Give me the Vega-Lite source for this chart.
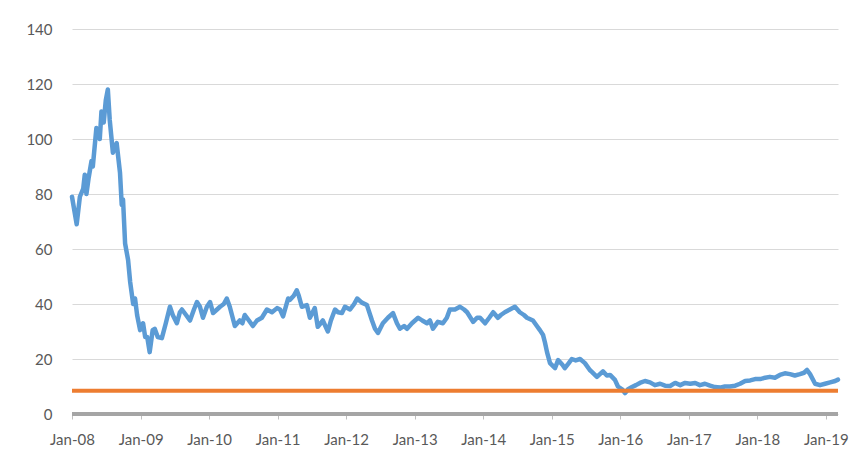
{
  "$schema": "https://vega.github.io/schema/vega-lite/v6.json",
  "width": 766,
  "height": 385,
  "autosize": {"type": "none"},
  "padding": {"left": 72, "top": 29, "right": 16, "bottom": 50},
  "background": "white",
  "config": {
    "view": {"stroke": null},
    "font": "Lato",
    "axis": {"labelFont": "Lato", "labelFontSize": 15, "labelColor": "#595959"}
  },
  "datasets": {
    "price": [
      {"date": "2008-01-01", "value": 79},
      {"date": "2008-01-26", "value": 69},
      {"date": "2008-02-12", "value": 79},
      {"date": "2008-03-01", "value": 82},
      {"date": "2008-03-09", "value": 87},
      {"date": "2008-03-18", "value": 80},
      {"date": "2008-03-30", "value": 86},
      {"date": "2008-04-14", "value": 92},
      {"date": "2008-04-21", "value": 90},
      {"date": "2008-05-10", "value": 104},
      {"date": "2008-05-17", "value": 102},
      {"date": "2008-05-28", "value": 100},
      {"date": "2008-06-06", "value": 110},
      {"date": "2008-06-18", "value": 106},
      {"date": "2008-06-29", "value": 114},
      {"date": "2008-07-10", "value": 118},
      {"date": "2008-07-20", "value": 107},
      {"date": "2008-08-06", "value": 95},
      {"date": "2008-08-26", "value": 98.5},
      {"date": "2008-09-13", "value": 87.6},
      {"date": "2008-09-22", "value": 76},
      {"date": "2008-09-29", "value": 78},
      {"date": "2008-10-10", "value": 62},
      {"date": "2008-10-26", "value": 56},
      {"date": "2008-11-06", "value": 48},
      {"date": "2008-11-22", "value": 40},
      {"date": "2008-12-02", "value": 42},
      {"date": "2008-12-13", "value": 36},
      {"date": "2008-12-29", "value": 30.5},
      {"date": "2009-01-14", "value": 33},
      {"date": "2009-01-25", "value": 28},
      {"date": "2009-02-05", "value": 28},
      {"date": "2009-02-18", "value": 22.5},
      {"date": "2009-03-06", "value": 30.5},
      {"date": "2009-03-17", "value": 31},
      {"date": "2009-04-02", "value": 28},
      {"date": "2009-04-24", "value": 27.6},
      {"date": "2009-05-15", "value": 33},
      {"date": "2009-06-06", "value": 39},
      {"date": "2009-06-21", "value": 36},
      {"date": "2009-07-13", "value": 33},
      {"date": "2009-07-29", "value": 37},
      {"date": "2009-08-09", "value": 38},
      {"date": "2009-08-31", "value": 36},
      {"date": "2009-09-21", "value": 34},
      {"date": "2009-10-12", "value": 38},
      {"date": "2009-10-28", "value": 40.7},
      {"date": "2009-11-13", "value": 39},
      {"date": "2009-11-29", "value": 35},
      {"date": "2009-12-20", "value": 39},
      {"date": "2010-01-06", "value": 40.7},
      {"date": "2010-01-22", "value": 36.7},
      {"date": "2010-02-12", "value": 38},
      {"date": "2010-02-28", "value": 39},
      {"date": "2010-03-20", "value": 40},
      {"date": "2010-04-05", "value": 42},
      {"date": "2010-04-21", "value": 39},
      {"date": "2010-05-18", "value": 32},
      {"date": "2010-06-13", "value": 34},
      {"date": "2010-06-27", "value": 33},
      {"date": "2010-07-10", "value": 36},
      {"date": "2010-08-01", "value": 34},
      {"date": "2010-08-22", "value": 32},
      {"date": "2010-09-13", "value": 34},
      {"date": "2010-10-09", "value": 35},
      {"date": "2010-11-05", "value": 38},
      {"date": "2010-12-02", "value": 37},
      {"date": "2010-12-29", "value": 38.5},
      {"date": "2011-01-14", "value": 38},
      {"date": "2011-01-30", "value": 35.5},
      {"date": "2011-02-26", "value": 42},
      {"date": "2011-03-07", "value": 41.5},
      {"date": "2011-03-28", "value": 43},
      {"date": "2011-04-13", "value": 45},
      {"date": "2011-04-24", "value": 43},
      {"date": "2011-05-10", "value": 39},
      {"date": "2011-06-06", "value": 39.6},
      {"date": "2011-06-22", "value": 35},
      {"date": "2011-07-18", "value": 38.5},
      {"date": "2011-08-03", "value": 31.7},
      {"date": "2011-08-30", "value": 34},
      {"date": "2011-09-26", "value": 30},
      {"date": "2011-10-12", "value": 34},
      {"date": "2011-11-03", "value": 38},
      {"date": "2011-11-19", "value": 37},
      {"date": "2011-12-10", "value": 36.7},
      {"date": "2011-12-26", "value": 39},
      {"date": "2012-01-22", "value": 38},
      {"date": "2012-02-13", "value": 40},
      {"date": "2012-02-29", "value": 42},
      {"date": "2012-03-25", "value": 40.5},
      {"date": "2012-04-21", "value": 39.6},
      {"date": "2012-05-18", "value": 34},
      {"date": "2012-06-03", "value": 31},
      {"date": "2012-06-19", "value": 29.5},
      {"date": "2012-07-15", "value": 33},
      {"date": "2012-08-11", "value": 35},
      {"date": "2012-09-07", "value": 36.7},
      {"date": "2012-09-28", "value": 33},
      {"date": "2012-10-14", "value": 31},
      {"date": "2012-11-05", "value": 32},
      {"date": "2012-11-21", "value": 31},
      {"date": "2012-12-17", "value": 33},
      {"date": "2013-01-19", "value": 35},
      {"date": "2013-02-10", "value": 34},
      {"date": "2013-03-07", "value": 33},
      {"date": "2013-03-23", "value": 34},
      {"date": "2013-04-08", "value": 31},
      {"date": "2013-05-04", "value": 33.5},
      {"date": "2013-05-31", "value": 33},
      {"date": "2013-06-21", "value": 35},
      {"date": "2013-07-07", "value": 38},
      {"date": "2013-08-03", "value": 38},
      {"date": "2013-08-30", "value": 39},
      {"date": "2013-09-21", "value": 38},
      {"date": "2013-10-07", "value": 37},
      {"date": "2013-11-08", "value": 33.5},
      {"date": "2013-11-29", "value": 35},
      {"date": "2013-12-15", "value": 35},
      {"date": "2014-01-11", "value": 33},
      {"date": "2014-02-02", "value": 35},
      {"date": "2014-02-23", "value": 37},
      {"date": "2014-03-20", "value": 35},
      {"date": "2014-04-05", "value": 36},
      {"date": "2014-04-26", "value": 37},
      {"date": "2014-05-23", "value": 38},
      {"date": "2014-06-19", "value": 39},
      {"date": "2014-07-15", "value": 37},
      {"date": "2014-08-06", "value": 36},
      {"date": "2014-08-22", "value": 35},
      {"date": "2014-09-23", "value": 34},
      {"date": "2014-10-14", "value": 32},
      {"date": "2014-10-30", "value": 30.5},
      {"date": "2014-11-16", "value": 28.7},
      {"date": "2014-11-26", "value": 26},
      {"date": "2014-12-07", "value": 22.5},
      {"date": "2014-12-23", "value": 18.5},
      {"date": "2015-01-19", "value": 16.7},
      {"date": "2015-02-04", "value": 19.6},
      {"date": "2015-02-26", "value": 18},
      {"date": "2015-03-12", "value": 16.7},
      {"date": "2015-04-02", "value": 18.5},
      {"date": "2015-04-18", "value": 20},
      {"date": "2015-05-09", "value": 19.5},
      {"date": "2015-06-01", "value": 20},
      {"date": "2015-06-27", "value": 18.5},
      {"date": "2015-07-23", "value": 16},
      {"date": "2015-08-03", "value": 15.3},
      {"date": "2015-08-30", "value": 13.5},
      {"date": "2015-10-01", "value": 15.5},
      {"date": "2015-10-22", "value": 14},
      {"date": "2015-11-08", "value": 14.2},
      {"date": "2015-12-04", "value": 12.4},
      {"date": "2015-12-20", "value": 10},
      {"date": "2016-01-11", "value": 9},
      {"date": "2016-01-27", "value": 7.6},
      {"date": "2016-02-12", "value": 9},
      {"date": "2016-03-04", "value": 9.8},
      {"date": "2016-03-25", "value": 10.5},
      {"date": "2016-04-15", "value": 11.3},
      {"date": "2016-05-12", "value": 12},
      {"date": "2016-06-08", "value": 11.5},
      {"date": "2016-07-04", "value": 10.5},
      {"date": "2016-08-01", "value": 11},
      {"date": "2016-08-27", "value": 10.3},
      {"date": "2016-09-23", "value": 10.2},
      {"date": "2016-10-20", "value": 11.3},
      {"date": "2016-11-16", "value": 10.5},
      {"date": "2016-12-12", "value": 11.3},
      {"date": "2017-01-08", "value": 11},
      {"date": "2017-02-04", "value": 11.3},
      {"date": "2017-03-01", "value": 10.5},
      {"date": "2017-03-28", "value": 11},
      {"date": "2017-04-24", "value": 10.3},
      {"date": "2017-05-20", "value": 9.8},
      {"date": "2017-06-16", "value": 9.6},
      {"date": "2017-07-12", "value": 10},
      {"date": "2017-08-08", "value": 10},
      {"date": "2017-09-05", "value": 10.3},
      {"date": "2017-10-01", "value": 11},
      {"date": "2017-10-28", "value": 12},
      {"date": "2017-11-24", "value": 12.2},
      {"date": "2017-12-20", "value": 12.7},
      {"date": "2018-01-16", "value": 12.7},
      {"date": "2018-02-12", "value": 13.2},
      {"date": "2018-03-09", "value": 13.5},
      {"date": "2018-04-05", "value": 13.2},
      {"date": "2018-05-01", "value": 14.2},
      {"date": "2018-05-28", "value": 14.8},
      {"date": "2018-06-24", "value": 14.5},
      {"date": "2018-07-20", "value": 14},
      {"date": "2018-08-16", "value": 14.5},
      {"date": "2018-09-07", "value": 15},
      {"date": "2018-09-23", "value": 16},
      {"date": "2018-10-09", "value": 14.5},
      {"date": "2018-11-05", "value": 11},
      {"date": "2018-12-01", "value": 10.5},
      {"date": "2018-12-28", "value": 11},
      {"date": "2019-01-24", "value": 11.5},
      {"date": "2019-02-20", "value": 12},
      {"date": "2019-03-07", "value": 12.5}
    ],
    "refs": [
      {"date": "2008-01-01", "value": 8.5, "series": "threshold"},
      {"date": "2019-03-07", "value": 8.5, "series": "threshold"},
      {"date": "2008-01-01", "value": 0, "series": "zero"},
      {"date": "2019-03-07", "value": 0, "series": "zero"}
    ]
  },
  "layer": [
    {
      "data": {"name": "price"},
      "mark": {"type": "line", "color": "#5B9BD5", "strokeWidth": 4.5, "strokeJoin": "round", "strokeCap": "round"},
      "encoding": {
        "x": {
          "field": "date", "type": "temporal",
          "scale": {"domain": ["2008-01-01", "2019-03-07"]},
          "axis": {
            "title": null, "format": "%b-%y", "grid": false, "domain": false,
            "tickCount": {"interval": "year", "step": 1},
            "ticks": true, "tickColor": "#BFBFBF", "tickSize": 5,
            "labelPadding": 13, "labelFlush": false
          }
        },
        "y": {
          "field": "value", "type": "quantitative",
          "scale": {"domain": [0, 140], "nice": false},
          "axis": {
            "title": null, "values": [0, 20, 40, 60, 80, 100, 120, 140],
            "grid": true, "gridColor": "#D9D9D9", "gridWidth": 1,
            "domain": false, "ticks": false, "labelPadding": 20
          }
        }
      }
    },
    {
      "data": {"name": "refs"},
      "mark": {"type": "line", "strokeWidth": 4},
      "encoding": {
        "x": {"field": "date", "type": "temporal"},
        "y": {"field": "value", "type": "quantitative"},
        "color": {
          "field": "series", "type": "nominal",
          "scale": {"domain": ["threshold", "zero"], "range": ["#ED7D31", "#A5A5A5"]},
          "legend": null
        }
      }
    }
  ]
}
